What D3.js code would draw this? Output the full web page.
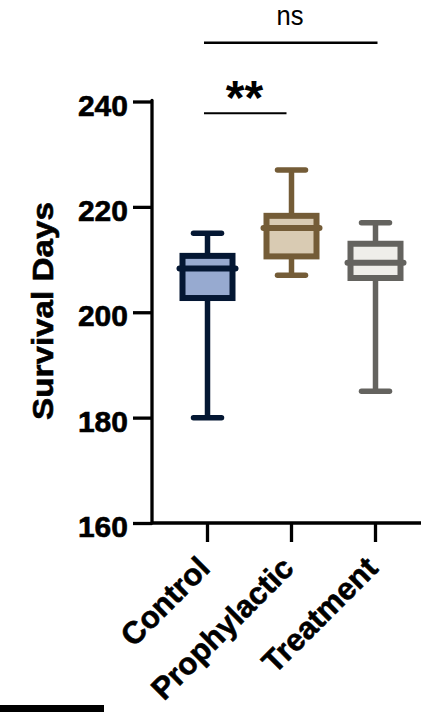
<!DOCTYPE html>
<html lang="en">
<head>
    <meta charset="UTF-8">
    <title>Survival Days</title>
    <script src="https://d3js.org/d3.v7.min.js"></script>
    <style>
        body { margin: 0; background: #fff; }
        svg text { font-family: "Liberation Sans", Arial, sans-serif; }
        .heavy { stroke: #000; stroke-width: 0.6px; }
    </style>
</head>
<body>
    <svg id="chart" width="421" height="712"></svg>

    <script>
        // groups and box stats
        let groups = ["Control", "Prophylactic", "Treatment"];
        let mins = [180, 207, 185];
        let q1s = [202.7, 210.6, 206.5];
        let medians = [208.3, 216, 209.4];
        let q3s = [210.7, 218.3, 213];
        let maxs = [215, 227, 217];
        let fills = ["#97aad0", "#d9cbb3", "#efeeea"];
        let strokes = ["#041733", "#745c37", "#64635f"];
        let yTicks = [160, 180, 200, 220, 240];

        let svg = d3.select("#chart");

        let x = d3.scaleBand()
            .domain(groups)
            .range([165.5, 417.5])
            .padding(0);
        let cx = function(g){ return x(g) + x.bandwidth() / 2 };

        let y = d3.scaleLinear()
            .domain([160, 240])
            .range([523, 101.5]);

        // y axis
        let yAxis = svg.append("g")
            .attr("transform", "translate(152,0)")
            .call(d3.axisLeft(y).tickValues(yTicks).tickSize(19).tickPadding(5));
        yAxis.select(".domain").remove();
        yAxis.selectAll(".tick line")
            .attr("stroke", "#000")
            .attr("stroke-width", 3.3);
        yAxis.selectAll(".tick text")
            .attr("class", "heavy")
            .attr("font-size", 30)
            .attr("font-weight", "bold")
            .attr("fill", "#000")
            .attr("dy", "0.45em");

        svg.append("line")
            .attr("x1", 152).attr("x2", 152)
            .attr("y1", y(240) - 1).attr("y2", y(160))
            .attr("stroke", "#000")
            .attr("stroke-width", 3.3)
            .attr("stroke-linecap", "round");

        // x axis
        let xAxis = svg.append("g")
            .attr("transform", "translate(0," + y(160) + ")")
            .call(d3.axisBottom(x).tickSize(19).tickFormat(""));
        xAxis.select(".domain").remove();
        xAxis.selectAll(".tick line")
            .attr("stroke", "#000")
            .attr("stroke-width", 3.3);

        svg.append("line")
            .attr("x1", 152).attr("x2", 425)
            .attr("y1", y(160)).attr("y2", y(160))
            .attr("stroke", "#000")
            .attr("stroke-width", 3.3)
            .attr("stroke-linecap", "round");

        // rotated category labels
        svg.selectAll(".xlab")
            .data(groups)
            .enter()
            .append("text")
            .attr("class", "xlab heavy")
            .attr("transform", function(d){ return "translate(" + (cx(d) + 4) + ",570) rotate(-45)" })
            .attr("text-anchor", "end")
            .attr("font-size", 31)
            .attr("font-weight", "bold")
            .text(function(d){ return d });

        // y label
        svg.append("text")
            .attr("class", "heavy")
            .attr("transform", "translate(53,311) rotate(-90)")
            .attr("text-anchor", "middle")
            .attr("font-size", 29)
            .attr("font-weight", "bold")
            .attr("textLength", 218)
            .attr("lengthAdjust", "spacingAndGlyphs")
            .text("Survival Days");

        // boxes
        let boxHalf = 25, capHalf = 14, medHalf = 28;
        groups.forEach(function(g, i){
            let c = cx(g);
            let grp = svg.append("g");
            // whiskers
            grp.append("line")
                .attr("x1", c).attr("x2", c)
                .attr("y1", y(maxs[i])).attr("y2", y(q3s[i]))
                .attr("stroke", strokes[i]).attr("stroke-width", 5.5);
            grp.append("line")
                .attr("x1", c).attr("x2", c)
                .attr("y1", y(q1s[i])).attr("y2", y(mins[i]))
                .attr("stroke", strokes[i]).attr("stroke-width", 5.5);
            [maxs[i], mins[i]].forEach(function(v){
                grp.append("line")
                    .attr("x1", c - capHalf).attr("x2", c + capHalf)
                    .attr("y1", y(v)).attr("y2", y(v))
                    .attr("stroke", strokes[i]).attr("stroke-width", 5.5)
                    .attr("stroke-linecap", "round");
            });
            grp.append("rect")
                .attr("x", c - boxHalf)
                .attr("y", y(q3s[i]))
                .attr("width", boxHalf * 2)
                .attr("height", y(q1s[i]) - y(q3s[i]))
                .attr("fill", fills[i])
                .attr("stroke", strokes[i])
                .attr("stroke-width", 6);
            grp.append("line")
                .attr("x1", c - medHalf).attr("x2", c + medHalf)
                .attr("y1", y(medians[i])).attr("y2", y(medians[i]))
                .attr("stroke", strokes[i]).attr("stroke-width", 6)
                .attr("stroke-linecap", "round");
        });

        // significance brackets
        svg.append("line")
            .attr("x1", cx("Control") - 3.5).attr("x2", cx("Prophylactic") - 5)
            .attr("y1", 113.3).attr("y2", 113.3)
            .attr("stroke", "#000").attr("stroke-width", 2);
        svg.append("text")
            .attr("x", (cx("Control") + cx("Prophylactic")) / 2 - 5)
            .attr("y", 113.5)
            .attr("text-anchor", "middle")
            .attr("font-size", 48)
            .attr("font-weight", "bold")
            .text("**");

        svg.append("line")
            .attr("x1", cx("Control") - 3.5).attr("x2", cx("Treatment") + 2)
            .attr("y1", 42.7).attr("y2", 42.7)
            .attr("stroke", "#000").attr("stroke-width", 2.5);
        svg.append("text")
            .attr("x", 290)
            .attr("y", 25)
            .attr("text-anchor", "middle")
            .attr("font-size", 27)
            .attr("textLength", 27)
            .attr("lengthAdjust", "spacingAndGlyphs")
            .text("ns");

        // bar at bottom left
        svg.append("rect")
            .attr("x", 0).attr("y", 705)
            .attr("width", 104).attr("height", 7)
            .attr("fill", "#000");
    </script>
</body>
</html>
